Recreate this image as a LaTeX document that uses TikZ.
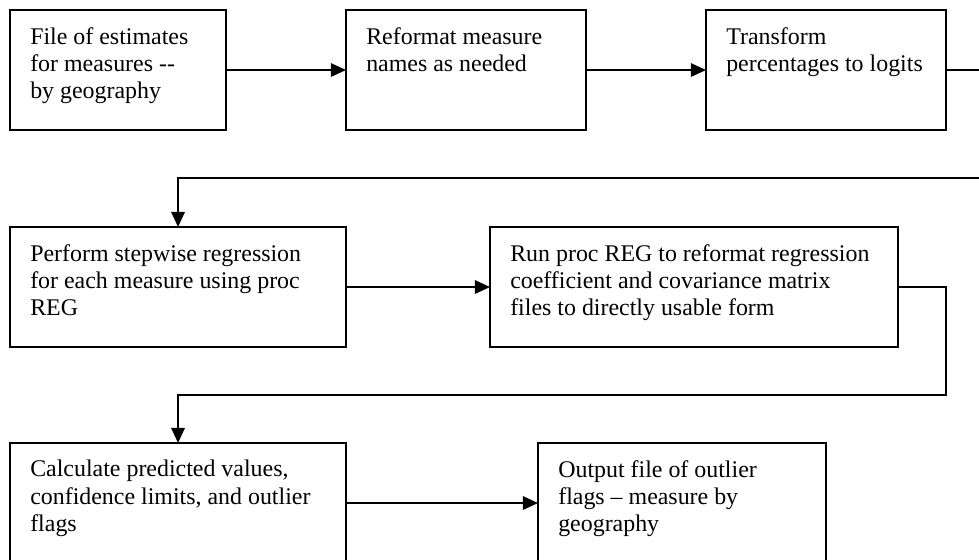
\documentclass[tikz,border=0pt]{standalone}
\usepackage{fontspec}
\setmainfont{Liberation Serif}
\usetikzlibrary{arrows.meta}
\usetikzlibrary{calc}

\tikzset{
	stepbox/.style={draw, line width=1.1pt, inner sep=0pt, outer sep=0pt, minimum height=3cm, anchor=north west},
	steptext/.style={anchor=north west, inner sep=0pt, align=left, font=\fontsize{17}{19.4}\selectfont},
	flow/.style={line width=1.1pt, -{Triangle[length=0.38cm, width=0.34cm]}}
}

\begin{document}
\begin{tikzpicture}[x=0.025cm, y=-0.025cm, line join=miter]
	\useasboundingbox (0,0) rectangle (979,559);

	%Row 1
	\node[stepbox, minimum width=5.4cm] (b1) at (10,10) {};
	\node[stepbox, minimum width=6cm] (b2) at (346,10) {};
	\node[stepbox, minimum width=6cm] (b3) at (706,10) {};
	\node[steptext] (t1) at ([shift={(20,17)}]b1.north west) {File of estimates\\for measures -{}-\\by geography};
	\node[steptext] (t2) at ([shift={(20,17)}]b2.north west) {Reformat measure\\names as needed};
	\node[steptext] (t3) at ([shift={(20,17)}]b3.north west) {Transform\\percentages to logits};

	%Row 2
	\node[stepbox, minimum width=8.4cm] (b4) at (10,227) {};
	\node[stepbox, minimum width=10.2cm] (b5) at (490,227) {};
	\node[steptext] (t4) at ([shift={(20,17)}]b4.north west) {Perform stepwise regression\\for each measure using proc\\REG};
	\node[steptext] (t5) at ([shift={(20,17)}]b5.north west) {Run proc REG to reformat regression\\coefficient and covariance matrix\\files to directly usable form};

	%Row 3
	\node[stepbox, minimum width=8.4cm] (b6) at (10,443) {};
	\node[stepbox, minimum width=7.2cm] (b7) at (538,443) {};
	\node[steptext] (t6) at ([shift={(20,17)}]b6.north west) {Calculate predicted values,\\confidence limits, and outlier\\flags};
	\node[steptext] (t7) at ([shift={(20,17)}]b7.north west) {Output file of outlier\\flags -- measure by\\geography};

	%Connectors
	\coordinate (turnA) at (995,178);
	\coordinate (turnB) at (946,395);
	\draw[flow] (b1.east) -- (b2.west);
	\draw[flow] (b2.east) -- (b3.west);
	\draw[flow] (b3.east) -- (b3.east -| turnA) -- (turnA) -| (b4.north);
	\draw[flow] (b4.east) -- (b5.west);
	\draw[flow] (b5.east) -| (turnB) -| (b6.north);
	\draw[flow] (b6.east) -- (b7.west);
\end{tikzpicture}
\end{document}
